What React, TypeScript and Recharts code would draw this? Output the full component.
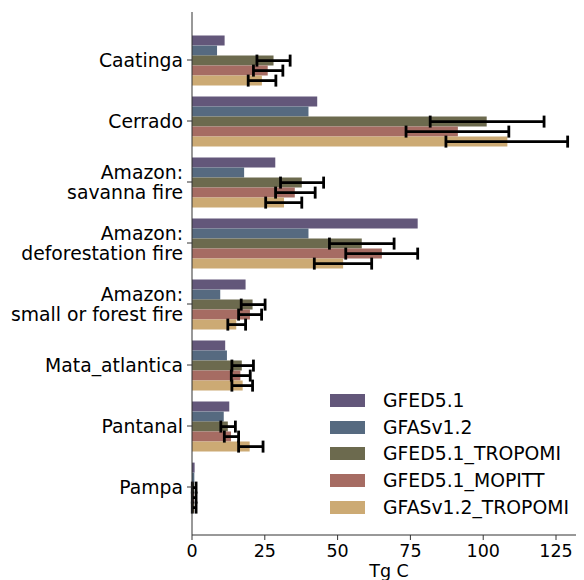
import React from "react";
import { BarChart, Bar, XAxis, YAxis, ErrorBar, Legend } from "recharts";

const categories = [
  "Caatinga",
  "Cerrado",
  "Amazon:\nsavanna fire",
  "Amazon:\ndeforestation fire",
  "Amazon:\nsmall or forest fire",
  "Mata_atlantica",
  "Pantanal",
  "Pampa",
];

const gfed = [11.2, 43, 28.6, 77.5, 18.4, 11.4, 12.8, 0.9];
const gfas = [8.6, 40, 17.9, 40, 9.7, 12, 10.9, 0.8];
const gfedTropomi = [28, 101.2, 37.7, 58.3, 20.8, 17.1, 12.3, 0.7];
const gfedMopitt = [26, 91.3, 35.3, 65.2, 19.9, 16.6, 13.4, 0.7];
const gfasTropomi = [24, 108.3, 31.6, 51.9, 15.2, 17.4, 19.8, 0.7];

// error ranges (absolute low / high)
const gfedTropomiLow = [22.3, 81.8, 30.4, 47.2, 16.9, 13.7, 9.9, 0.1];
const gfedTropomiHigh = [33.7, 120.9, 45.2, 69.4, 25.1, 21.1, 14.9, 1.4];
const gfedMopittLow = [21.1, 73.5, 28.7, 52.8, 16, 13.5, 11.1, 0.1];
const gfedMopittHigh = [31.2, 108.8, 42.3, 77.5, 23.9, 20, 16, 1.4];
const gfasTropomiLow = [19.3, 87.2, 25.3, 42, 12.3, 13.7, 16, 0.1];
const gfasTropomiHigh = [28.8, 129, 37.7, 61.7, 18.4, 20.8, 24.4, 1.4];

const xTicks = [0, 25, 50, 75, 100, 125];

const series = [
  { key: "gfed", name: "GFED5.1", color: "#63577a" },
  { key: "gfas", name: "GFASv1.2", color: "#566a80" },
  { key: "gfedTropomi", name: "GFED5.1_TROPOMI", color: "#6c6a4e" },
  { key: "gfedMopitt", name: "GFED5.1_MOPITT", color: "#a66c63" },
  { key: "gfasTropomi", name: "GFASv1.2_TROPOMI", color: "#ccaa74" },
];

const data = categories.map((c, i) => ({
  name: c,
  gfed: gfed[i],
  gfas: gfas[i],
  gfedTropomi: gfedTropomi[i],
  gfedMopitt: gfedMopitt[i],
  gfasTropomi: gfasTropomi[i],
  errGfedTropomi: [gfedTropomi[i] - gfedTropomiLow[i], gfedTropomiHigh[i] - gfedTropomi[i]],
  errGfedMopitt: [gfedMopitt[i] - gfedMopittLow[i], gfedMopittHigh[i] - gfedMopitt[i]],
  errGfasTropomi: [gfasTropomi[i] - gfasTropomiLow[i], gfasTropomiHigh[i] - gfasTropomi[i]],
}));

const FONT = "DejaVu Sans";

const CatTick = (props: any) => {
  const { x, y, payload } = props;
  const lines = String(payload.value).split("\n");
  const lh = 20.5;
  return (
    <text x={x} y={y} textAnchor="end" fontSize={18.8} fill="#000" fontFamily={FONT}>
      {lines.map((l, i) => (
        <tspan key={i} x={x} dy={i === 0 ? 6.8 - ((lines.length - 1) * lh) / 2 : lh}>
          {l}
        </tspan>
      ))}
    </text>
  );
};

const renderLegend = () => (
  <div style={{ fontFamily: FONT, fontSize: 18.8, color: "#000" }}>
    {series.map((s) => (
      <div key={s.key} style={{ display: "flex", alignItems: "center", height: 26.8 }}>
        <span style={{ display: "inline-block", width: 35, height: 13, background: s.color, marginRight: 18 }} />
        <span>{s.name}</span>
      </div>
    ))}
  </div>
);

export default function App() {
  return (
    <div style={{ width: 576, overflow: "hidden" }}>
      <BarChart
        width={600}
        height={572}
        data={data}
        layout="vertical"
        margin={{ top: 4, right: 22, left: 0, bottom: 0 }}
        barCategoryGap="10%"
        barGap={0}
      >
        <XAxis
          type="number"
          domain={[0, 135.3]}
          ticks={xTicks}
          allowDataOverflow
          height={45}
          tickSize={5}
          tickMargin={5}
          stroke="#333"
          tick={{ fill: "#000", fontSize: 17.5, fontFamily: FONT }}
          label={{ value: "Tg C", position: "insideBottom", offset: 3, fill: "#000", fontSize: 17.5, fontFamily: FONT }}
        />
        <YAxis
          type="category"
          dataKey="name"
          width={184}
          tickSize={5}
          tickMargin={4}
          stroke="#333"
          padding={{ top: 17.5, bottom: 17.5 }}
          tick={<CatTick />}
          interval={0}
        />
        <Legend
          layout="vertical"
          align="center"
          verticalAlign="middle"
          content={renderLegend}
          wrapperStyle={{ left: 322, top: 379, width: 260, height: 140 }}
        />
        <Bar dataKey="gfed" name="GFED5.1" fill={series[0].color} isAnimationActive={false} />
        <Bar dataKey="gfas" name="GFASv1.2" fill={series[1].color} isAnimationActive={false} />
        <Bar dataKey="gfedTropomi" name="GFED5.1_TROPOMI" fill={series[2].color} isAnimationActive={false}>
          <ErrorBar dataKey="errGfedTropomi" direction="x" width={6} stroke="#000" strokeWidth={2.8} />
        </Bar>
        <Bar dataKey="gfedMopitt" name="GFED5.1_MOPITT" fill={series[3].color} isAnimationActive={false}>
          <ErrorBar dataKey="errGfedMopitt" direction="x" width={6} stroke="#000" strokeWidth={2.8} />
        </Bar>
        <Bar dataKey="gfasTropomi" name="GFASv1.2_TROPOMI" fill={series[4].color} isAnimationActive={false}>
          <ErrorBar dataKey="errGfasTropomi" direction="x" width={6} stroke="#000" strokeWidth={2.8} />
        </Bar>
      </BarChart>
    </div>
  );
}
